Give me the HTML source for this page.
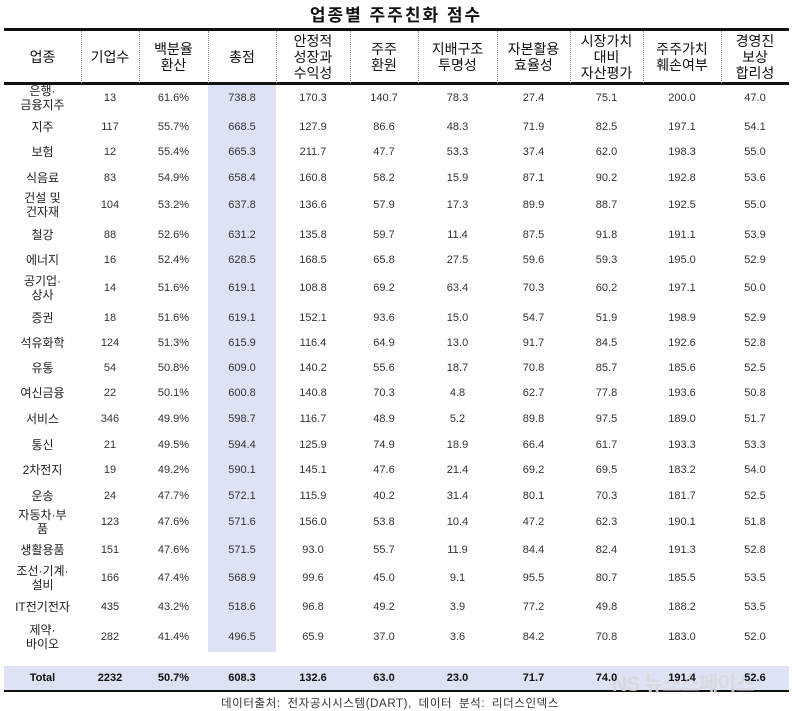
<!DOCTYPE html>
<html><head><meta charset="utf-8">
<style>
body{margin:0;width:792px;height:711px;background:#fff;position:relative;overflow:hidden;font-family:"Liberation Sans","Noto Sans CJK KR",sans-serif;color:#333}
.abs{position:absolute}
.title{left:0;width:792px;top:1px;text-align:center;font-size:17px;font-weight:bold;color:#111;letter-spacing:2px}
.hl{background:#dde3f5}
.hdr{font-size:14px;line-height:16px;text-align:center;color:#111;display:flex;align-items:center;justify-content:center;top:31px;height:52px}
.vl{top:31px;height:52px;border-left:1px dotted #999;width:0}
.cell{font-size:11px;text-align:center;transform:translateY(-50%);line-height:12px}
.lab{font-size:12px;line-height:14px;color:#222}
.tot{font-weight:bold;font-size:11px;transform:translateY(-50%);text-align:center;color:#111}
</style></head><body>
<div class="abs title">업종별 주주친화 점수</div>
<div class="abs" style="left:4px;top:28px;width:785px;height:3px;background:#111"></div>
<div class="abs" style="left:4px;top:82px;width:785px;height:3px;background:#111"></div>
<div class="abs hl" style="left:208px;top:85px;width:68px;height:567px"></div>
<div class="abs hl" style="left:4px;top:666px;width:785px;height:24px"></div>
<div class="abs" style="left:4px;top:690px;width:785px;height:2px;background:#111"></div>
<div class="abs" style="left:0;width:780px;top:695px;text-align:center;font-size:11.5px;color:#333;letter-spacing:0.6px;word-spacing:3px">데이터출처: 전자공시시스템(DART), 데이터 분석: 리더스인덱스</div>
<div class="abs" style="left:612px;top:668px;font-size:21px;font-weight:bold;color:rgba(215,215,220,0.9);letter-spacing:-1px">NS 뉴스스페이스</div>
<div id="t"></div>
<script>
var headers=["업종","기업수","백분율<br>환산","총점","안정적<br>성장과<br>수익성","주주<br>환원","지배구조<br>투명성","자본활용<br>효율성","시장가치<br>대비<br>자산평가","주주가치<br>훼손여부","경영진<br>보상<br>합리성"];
var categories=["은행·<br>금융지주","지주","보험","식음료","건설 및<br>건자재","철강","에너지","공기업·<br>상사","증권","석유화학","유통","여신금융","서비스","통신","2차전지","운송","자동차·부<br>품","생활용품","조선·기계·<br>설비","IT전기전자","제약·<br>바이오"];
var firms=["13","117","12","83","104","88","16","14","18","124","54","22","346","21","19","24","123","151","166","435","282"];
var pct=["61.6%","55.7%","55.4%","54.9%","53.2%","52.6%","52.4%","51.6%","51.6%","51.3%","50.8%","50.1%","49.9%","49.5%","49.2%","47.7%","47.6%","47.6%","47.4%","43.2%","41.4%"];
var totalScore=["738.8","668.5","665.3","658.4","637.8","631.2","628.5","619.1","619.1","615.9","609.0","600.8","598.7","594.4","590.1","572.1","571.6","571.5","568.9","518.6","496.5"];
var growth=["170.3","127.9","211.7","160.8","136.6","135.8","168.5","108.8","152.1","116.4","140.2","140.8","116.7","125.9","145.1","115.9","156.0","93.0","99.6","96.8","65.9"];
var returns=["140.7","86.6","47.7","58.2","57.9","59.7","65.8","69.2","93.6","64.9","55.6","70.3","48.9","74.9","47.6","40.2","53.8","55.7","45.0","49.2","37.0"];
var governance=["78.3","48.3","53.3","15.9","17.3","11.4","27.5","63.4","15.0","13.0","18.7","4.8","5.2","18.9","21.4","31.4","10.4","11.9","9.1","3.9","3.6"];
var capital=["27.4","71.9","37.4","87.1","89.9","87.5","59.6","70.3","54.7","91.7","70.8","62.7","89.8","66.4","69.2","80.1","47.2","84.4","95.5","77.2","84.2"];
var market=["75.1","82.5","62.0","90.2","88.7","91.8","59.3","60.2","51.9","84.5","85.7","77.8","97.5","61.7","69.5","70.3","62.3","82.4","80.7","49.8","70.8"];
var damage=["200.0","197.1","198.3","192.8","192.5","191.1","195.0","197.1","198.9","192.6","185.6","193.6","189.0","193.3","183.2","181.7","190.1","191.3","185.5","188.2","183.0"];
var comp=["47.0","54.1","55.0","53.6","55.0","53.9","52.9","50.0","52.9","52.8","52.5","50.8","51.7","53.3","54.0","52.5","51.8","52.8","53.5","53.5","52.0"];
var totals=["Total","2232","50.7%","608.3","132.6","63.0","23.0","71.7","74.0","191.4","52.6"];
var edges=[4,81,139,208,276,350,418,497,570,643,721,789];
var rowY=[98,127,152,178,205,235,260,288,318,343,368,393,419,445,470,496,522,550,578,607,637];
var cols=[categories,firms,pct,totalScore,growth,returns,governance,capital,market,damage,comp];
var t=document.getElementById('t');
function mk(cls,l,w,top,html){var d=document.createElement('div');d.className='abs '+cls;d.style.left=l+'px';d.style.width=w+'px';if(top!==null)d.style.top=top+'px';d.innerHTML=html;t.appendChild(d);return d;}
for(var c=0;c<headers.length;c++){
 var h=mk('hdr',edges[c],edges[c+1]-edges[c],null,headers[c]);
 
 
 if(c>0){var v=mk('vl',edges[c],0,null,'');
 
 }
}
for(var r=0;r<rowY.length;r++){
 for(var c=0;c<cols.length;c++){
  var d=mk('cell'+(c==0?' lab':''),edges[c],edges[c+1]-edges[c],rowY[r],cols[c][r]);
  
  
 }
}
for(var c=0;c<totals.length;c++){
 var d=mk('tot',edges[c],edges[c+1]-edges[c],678,totals[c]);
 
 
}
</script>
</body></html>
